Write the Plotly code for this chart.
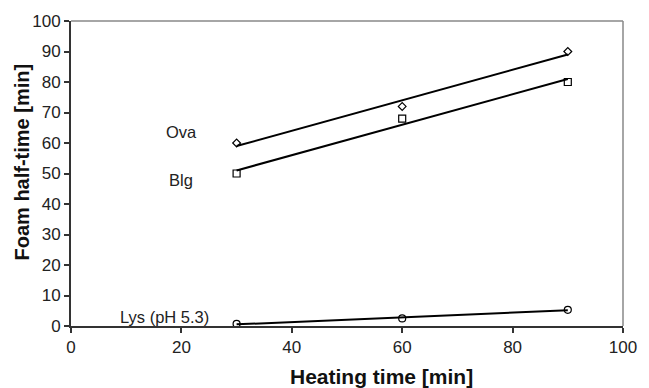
import numpy as np
import plotly.graph_objects as go

heating_time = [30, 60, 90]
ova = [60, 72, 90]
blg = [50, 68, 80]
lys = [0.7, 2.5, 5.3]

series = [
    ("Ova", ova, "diamond-open", 6),
    ("Blg", blg, "square-open", 7),
    ("Lys (pH 5.3)", lys, "circle-open", 7),
]

FONT = "Liberation Sans, Arial"

fig = go.Figure()
for name, vals, sym, sz in series:
    slope, intercept = np.polyfit(heating_time, vals, 1)
    fit = [slope * x + intercept for x in heating_time]
    fig.add_trace(go.Scatter(x=heating_time, y=fit, mode="lines",
                             line=dict(color="black", width=2), showlegend=False))
    fig.add_trace(go.Scatter(x=heating_time, y=vals, mode="markers",
                             marker=dict(symbol=sym, size=sz, color="black",
                                         line=dict(width=1.2, color="black")),
                             showlegend=False))

labels = [("Ova", 20, 63.5), ("Blg", 20, 48), ("Lys (pH 5.3)", 17, 2.8)]
for t, x, y in labels:
    fig.add_annotation(x=x, y=y, text=t, showarrow=False,
                       font=dict(family=FONT, size=16.5, color="#222"))

# axis titles
fig.add_annotation(xref="paper", yref="paper", x=0.562, y=0, yshift=-50,
                   xanchor="center", yanchor="middle",
                   text="<b>Heating time [min]</b>", showarrow=False,
                   font=dict(family=FONT, size=21, color="#111"))
fig.add_annotation(xref="paper", yref="paper", x=0, xshift=-49, y=0.536,
                   xanchor="center", yanchor="middle",
                   text="<b>Foam half-time [min]</b>", showarrow=False, textangle=-90,
                   font=dict(family=FONT, size=20, color="#111"))

fig.update_layout(
    width=649, height=388,
    margin=dict(l=71, r=17, t=18, b=62),
    plot_bgcolor="white", paper_bgcolor="white",
    font=dict(family=FONT, size=17, color="#222"),
    xaxis=dict(range=[0, 100], tickvals=[0, 20, 40, 60, 80, 100],
               showgrid=False, zeroline=False, showline=True, mirror=False,
               linecolor="#333", linewidth=2, ticks="outside", ticklen=5,
               tickcolor="#333", tickwidth=2),
    yaxis=dict(range=[0, 100], tickvals=list(range(0, 101, 10)),
               showgrid=False, zeroline=False, showline=True,
               linecolor="#333", linewidth=2, ticks="outside", ticklen=5,
               tickcolor="#333", tickwidth=2),
    shapes=[dict(type="line", xref="paper", yref="paper", x0=0, x1=1, y0=1, y1=1,
                 line=dict(color="#888", width=1.5)),
            dict(type="line", xref="paper", yref="paper", x0=1, x1=1, y0=0, y1=1,
                 line=dict(color="#888", width=1.5))],
)

fig.write_html("out.html")
